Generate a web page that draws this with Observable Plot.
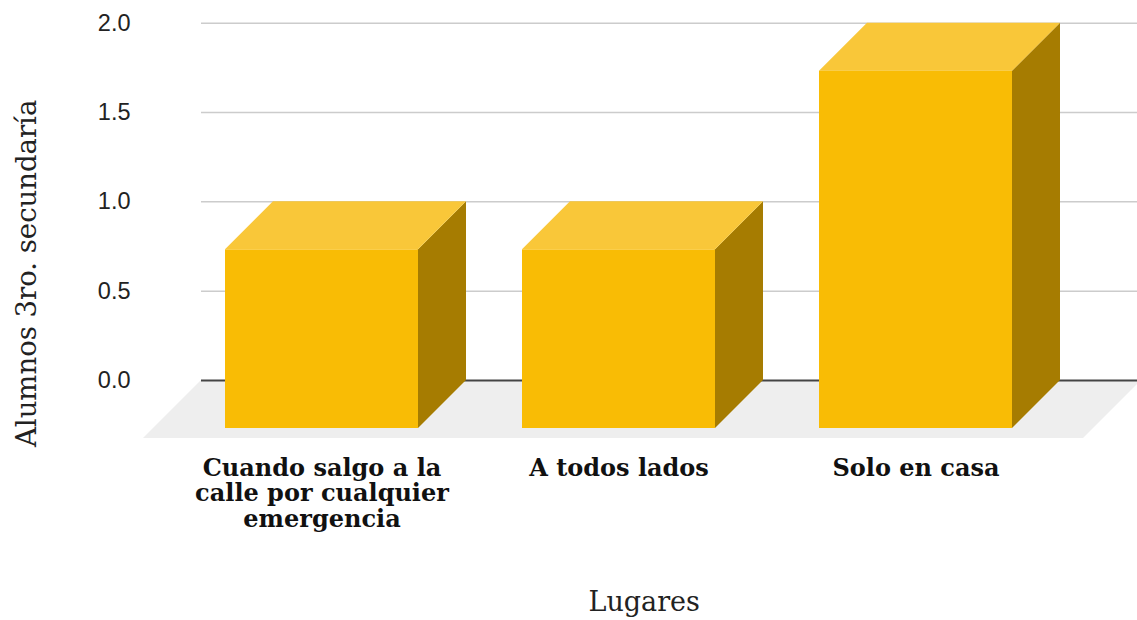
<!DOCTYPE html>
<html>
<head>
<meta charset="utf-8">
<script src="https://cdn.jsdelivr.net/npm/d3@7"></script>
<script src="https://cdn.jsdelivr.net/npm/@observablehq/plot@0.6"></script>
<style>
  html, body { margin: 0; padding: 0; background: #fff; }
  #chart svg { display: block; }
</style>
</head>
<body>
<div id="chart"></div>
<script>
// ---- data ----
const categories = ["Cuando salgo a la calle por cualquier emergencia", "A todos lados", "Solo en casa"];
const tickLabels = ["Cuando salgo a la\ncalle por cualquier\nemergencia", "A todos lados", "Solo en casa"];
const alumnos = [1, 1, 2];
const yTicks = [0, 0.5, 1, 1.5, 2];
const yTitle = "Alumnos 3ro. secundaría";
const xTitle = "Lugares";

// ---- style ----
const DEPTH = 48;        // bar depth (px)
const FLOOR_DEPTH = 58;  // floor depth (px)
const frontColor = "#F9BC05";
const topColor = "#F9C739";
const sideColor = "#A67C01";
const floorColor = "#EEEEEE";

const data = categories.map((c, i) => ({lugar: c, alumnos: alumnos[i], label: tickLabels[i]}));

function bw(x, scales) {
  if (typeof x.bandwidth === "function") return x.bandwidth();
  if (typeof x.bandwidth === "number") return x.bandwidth;
  return scales.scales.x.bandwidth;
}

function floorMark(index, scales) {
  const x = scales.x, y = scales.y;
  const r = x.range ? x.range() : scales.scales.x.range;
  const y0 = y(0);
  const g = d3.create("svg:g");
  g.append("path")
    .attr("d", `M${r[0]},${y0}L${r[1]},${y0}L${r[1] - FLOOR_DEPTH},${y0 + FLOOR_DEPTH}L${r[0] - FLOOR_DEPTH},${y0 + FLOOR_DEPTH}Z`)
    .attr("fill", floorColor);
  return g.node();
}

function depthFaces(index, scales) {
  const x = scales.x, y = scales.y;
  const w = bw(x, scales);
  const g = d3.create("svg:g");
  data.forEach(d => {
    const x0 = x(d.lugar), x1 = x0 + w, yt = y(d.alumnos), yb = y(0);
    g.append("path")
      .attr("d", `M${x1},${yt}L${x1},${yb}L${x1 - DEPTH},${yb + DEPTH}L${x1 - DEPTH},${yt + DEPTH}Z`)
      .attr("fill", sideColor);
    g.append("path")
      .attr("d", `M${x0},${yt}L${x1},${yt}L${x1 - DEPTH},${yt + DEPTH}L${x0 - DEPTH},${yt + DEPTH}Z`)
      .attr("fill", topColor);
  });
  return g.node();
}

function yTitleMark(index, scales, values, dimensions) {
  const {marginLeft, marginTop, height, marginBottom} = dimensions;
  const cy = (marginTop + height - marginBottom) / 2 + 72;
  const cx = marginLeft - 165;
  const g = d3.create("svg:g");
  g.append("text")
    .attr("transform", `translate(${cx},${cy}) rotate(-90)`)
    .attr("text-anchor", "middle")
    .attr("font-family", "DejaVu Serif, serif")
    .attr("font-size", 27.5)
    .attr("fill", "#222")
    .text(yTitle);
  return g.node();
}

const chart = Plot.plot({
  width: 1137,
  height: 620,
  marginTop: 22.7,
  marginBottom: 240,
  marginLeft: 201,
  marginRight: 0,
  style: {background: "#fff", color: "#222"},
  x: {domain: categories, range: [201, 1141], paddingInner: 0.3496, paddingOuter: 0.2555, align: 0.469, axis: null},
  y: {domain: [0, 2], axis: null},
  marks: [
    floorMark,
    Plot.ruleY(yTicks.filter(t => t !== 0), {stroke: "#CCCCCC", strokeWidth: 1.5}),
    Plot.ruleY([0], {stroke: "#444", strokeWidth: 2}),
    depthFaces,
    Plot.barY(data, {x: "lugar", y: "alumnos", fill: frontColor, dx: -DEPTH, dy: DEPTH}),
    Plot.axisY({ticks: yTicks, tickSize: 0, tickPadding: 71, tickFormat: d3.format(".1f"),
      fontSize: 23.5, fontFamily: "Liberation Sans, Arial, sans-serif", fill: "#222", label: null}),
    Plot.text(data, {x: "lugar", text: "label", frameAnchor: "bottom", dx: -DEPTH, dy: 77,
      lineAnchor: "top", lineHeight: 1.07, fontSize: 24, fontWeight: "bold",
      fontFamily: "DejaVu Serif, serif", fill: "#111"}),
    Plot.text([xTitle], {frameAnchor: "bottom", dx: -25.3, dy: 230, lineAnchor: "bottom",
      fontSize: 27, fontFamily: "DejaVu Serif, serif", fill: "#222"}),
    yTitleMark
  ]
});
document.getElementById("chart").appendChild(chart);
</script>
</body>
</html>
